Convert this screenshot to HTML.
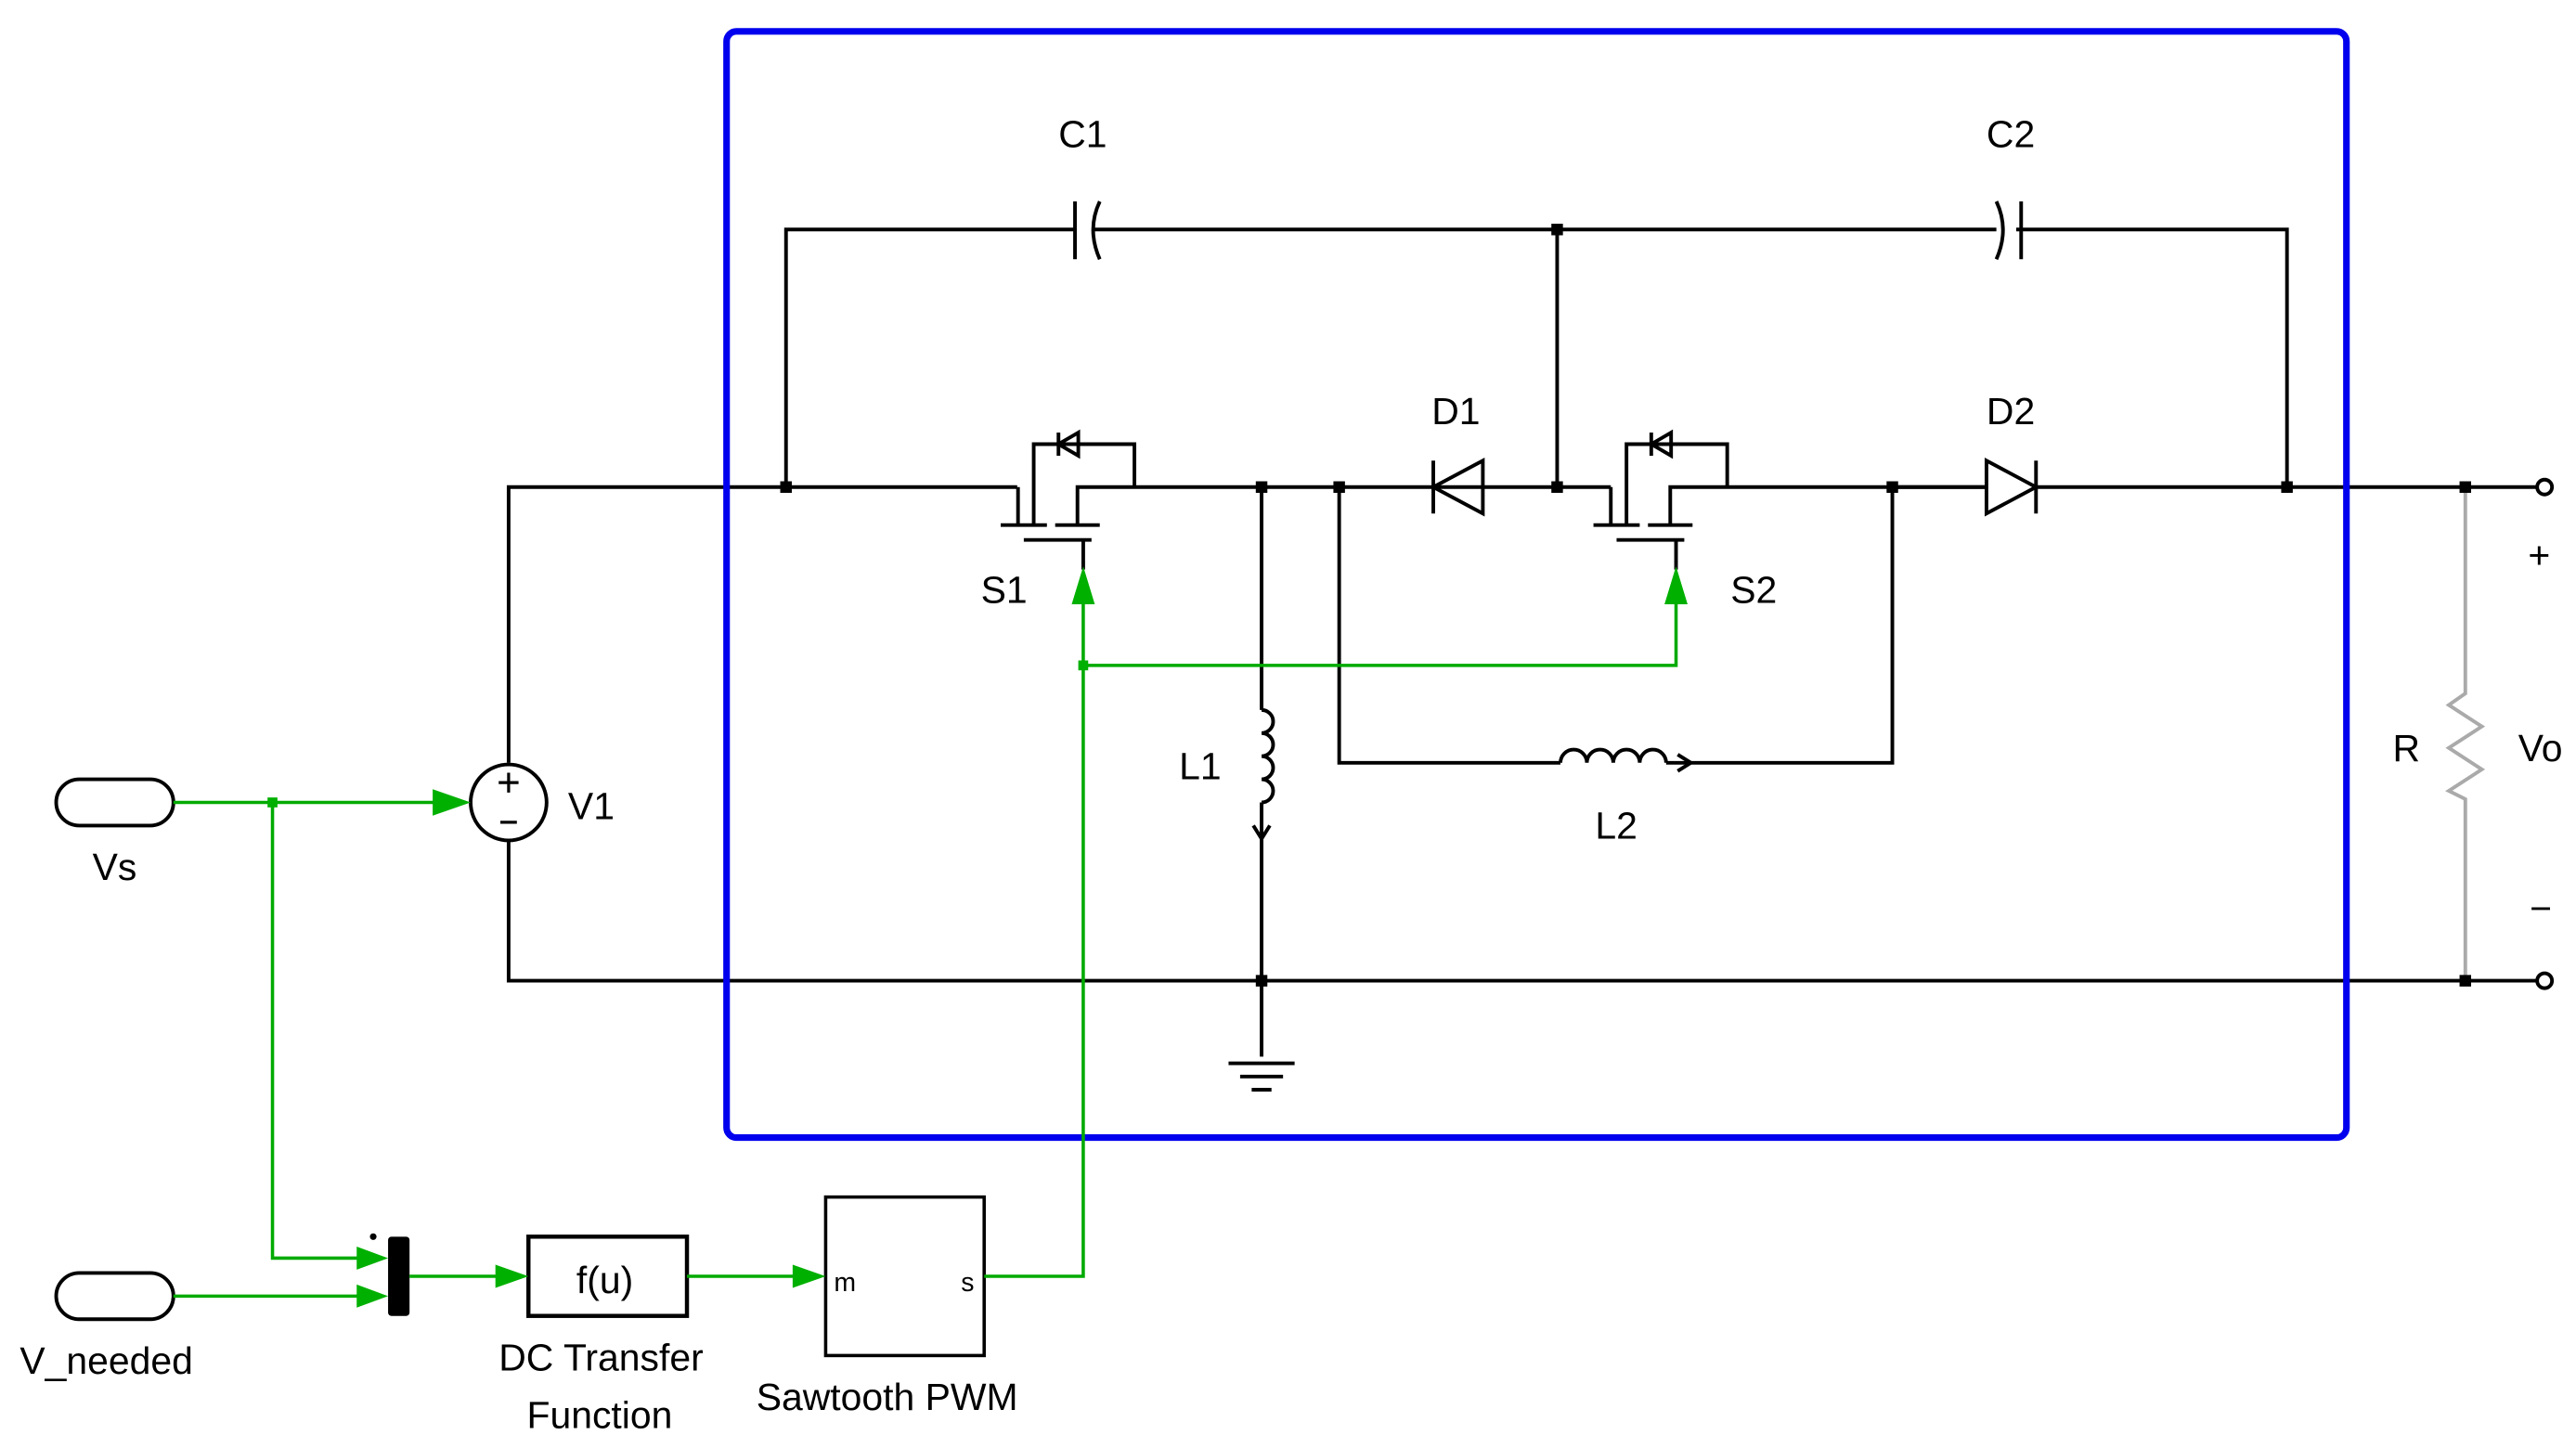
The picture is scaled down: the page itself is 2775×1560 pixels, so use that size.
<!DOCTYPE html>
<html><head><meta charset="utf-8"><style>html,body{margin:0;padding:0;background:#fff}svg{display:block}text{font-family:"Liberation Sans",sans-serif;font-size:23px;fill:#000}</style></head>
<body>
<svg width="2775" height="1560" viewBox="0 0 1560 877" xmlns="http://www.w3.org/2000/svg">
<g fill="none" stroke="#000" stroke-width="2.2">
<path d="M308 462 V295 H616"/>
<path d="M308 509 V594 H1493"/>
<path d="M476 295 V139 H651 M663 139 H1209 M1221 139 H1385 V295"/>
<path d="M943 139 V295"/>
<path d="M651 122 V157 M666 122 Q658 139 666 157"/>
<path d="M1209 122 Q1217 139 1209 157 M1224 122 V157"/>
<path d="M616.5 295 V318 M606 318 H634 M639 318 H666 M620 327 H661 M626 318 V269 H687 V295 M652.5 318 V295 H868 M656 327 V345"/>
<path d="M653 262 L641 269 L653 276 Z M641 262 V276"/>
<path d="M868 295 H897 M898 279 V311 L868 295 Z M868 279 V311" />
<path d="M898 295 H975.5"/>
<g transform="translate(359 0)">
<path d="M616.5 295 V318 M606 318 H634 M639 318 H666 M620 327 H661 M626 318 V269 H687 V295 M652.5 318 V295 H843 M656 327 V345"/>
<path d="M653 262 L641 269 L653 276 Z M641 262 V276"/>
</g>
<path d="M1146 295 H1203 M1203 279 V311 L1233 295 Z M1233 279 V311 M1233 295 H1541"/>
<path d="M764 295 V430 M764 430 a7 7 0 0 1 0 14 a7 7 0 0 1 0 14 a7 7 0 0 1 0 14 a7 7 0 0 1 0 14 M764 486 V640"/>
<path d="M759 500 L764 508 L769 500"/>
<path d="M811 295 V462 H945 M945 462 a8 8 0 0 1 16 0 a8 8 0 0 1 16 0 a8 8 0 0 1 16 0 a8 8 0 0 1 16 0 M1009 462 H1146 V295"/>
<path d="M1016 457 L1024 462 L1016 467"/>
<path d="M744 644 H784 M751 652 H777 M758 660 H770"/>
<circle cx="308" cy="486" r="23"/>
<path d="M302 474 H314 M308 468 V480 M303 498 H313" stroke-width="1.8"/>
<path d="M1493 594 H1541"/>
<circle cx="1541" cy="295" r="4.5" fill="#fff"/>
<circle cx="1541" cy="594" r="4.5" fill="#fff"/>
<rect x="34" y="472" width="71" height="28" rx="14"/>
<rect x="34" y="771" width="71" height="28" rx="14"/>
<rect x="320" y="749" width="96" height="48" stroke-width="2.5"/>
<rect x="500" y="725" width="96" height="96" stroke-width="2"/>
</g>
<path d="M1493 295 V420 L1483 427 L1503 440 L1483 453 L1503 466 L1483 479 L1493 484 V594" fill="none" stroke="#aaa" stroke-width="2.2"/>
<g fill="#000">
<rect x="472.5" y="291.5" width="7" height="7"/><rect x="760.5" y="291.5" width="7" height="7"/>
<rect x="807.5" y="291.5" width="7" height="7"/><rect x="939.5" y="291.5" width="7" height="7"/>
<rect x="939.5" y="135.5" width="7" height="7"/><rect x="1142.5" y="291.5" width="7" height="7"/>
<rect x="1381.5" y="291.5" width="7" height="7"/><rect x="1489.5" y="291.5" width="7" height="7"/>
<rect x="1489.5" y="590.5" width="7" height="7"/><rect x="760.5" y="590.5" width="7" height="7"/>
<rect x="235" y="749" width="13" height="48" rx="2"/>
<circle cx="226" cy="749" r="2"/>
</g>
<rect x="440" y="19" width="981" height="670" rx="6" fill="none" stroke="#0000ee" stroke-width="4"/>
<g fill="none" stroke="#00aa00" stroke-width="2">
<path d="M105 486 H268 M165 486 V762 H220 M105 785 H220 M248 773 H302 M416 773 H482 M596 773 H656 V348 M656 403 H1015 V348"/>
</g>
<g fill="#00b000">
<path d="M285 486 L262 478 L262 494 Z"/>
<path d="M235 762 L216 755 L216 769 Z"/>
<path d="M235 785 L216 778 L216 792 Z"/>
<path d="M320 773 L300 766 L300 780 Z"/>
<path d="M500 773 L480 766 L480 780 Z"/>
<path d="M656 343 L649 366 L663 366 Z"/>
<path d="M1015 343 L1008 366 L1022 366 Z"/>
<rect x="162" y="483" width="6" height="6"/><rect x="653" y="400" width="6" height="6"/>
</g>
<text x="641" y="89">C1</text><text x="1203" y="89">C2</text>
<text x="867" y="257">D1</text><text x="1203" y="257">D2</text>
<text x="594" y="365">S1</text><text x="1048" y="365">S2</text>
<text x="714" y="472">L1</text><text x="966" y="508">L2</text>
<text x="344" y="496">V1</text>
<text x="1449" y="461">R</text><text x="1525" y="461">Vo</text>
<text x="1531" y="344">+</text><text x="1532" y="558">−</text>
<text x="56" y="533">Vs</text><text x="12" y="832">V_needed</text>
<text x="349" y="783">f(u)</text>
<text x="302" y="830">DC Transfer</text><text x="319" y="865">Function</text>
<text x="458" y="854">Sawtooth PWM</text>
<text x="505" y="782" style="font-size:16px">m</text><text x="582" y="782" style="font-size:16px">s</text>
</svg>
</body></html>
